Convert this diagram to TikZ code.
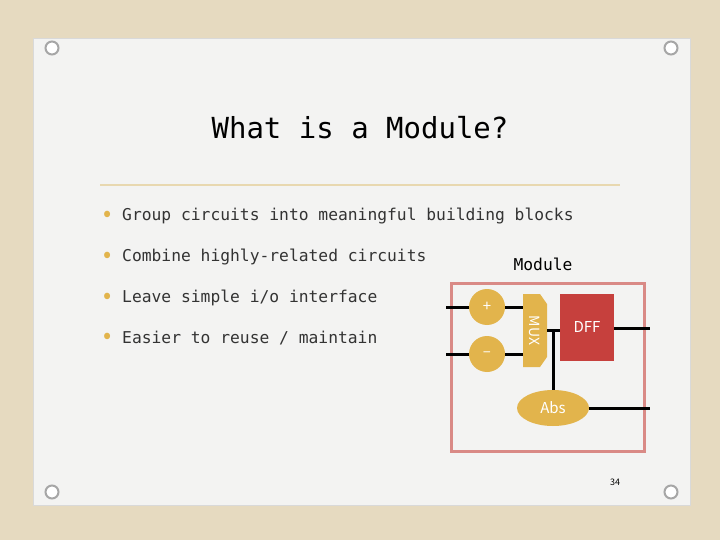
\documentclass[tikz,border=0pt]{standalone}
\usepackage{fontspec}
\setmainfont{Noto Sans CJK JP}
\newfontfamily\gothic{DejaVu Sans Mono}
\usetikzlibrary{shapes.geometric}
\definecolor{bg}{HTML}{E6DAC0}
\definecolor{card}{HTML}{F3F3F2}
\definecolor{gold}{HTML}{E2B44C}
\definecolor{dffred}{HTML}{C6403D}
\definecolor{modred}{HTML}{D98A86}
\definecolor{rule}{HTML}{E8D8B0}
\begin{document}
\begin{tikzpicture}[x=1pt,y=-1pt,
  wire/.style={line width=3pt,black},
  bul/.style={anchor=west,inner sep=0pt,font=\gothic\fontsize{16.3}{20}\selectfont,text=black!80},
  dot/.style={text=gold,font=\fontsize{24}{24}\selectfont},
  ring/.style={circle,draw=gray!70,line width=2pt,fill=white,minimum size=13pt,inner sep=0pt}]
\fill[bg] (0,0) rectangle (720,540);
\useasboundingbox (0,0) rectangle (720,540);
\fill[card,draw=gray!30] (33,38) rectangle (690,505);
\foreach \p/\q [count=\i] in {52/48,671/48,52/492,671/492}{\node[ring] (r\i) at (\p,\q) {};}
\node[font=\gothic\fontsize{29}{34}\selectfont] (title) at (360,128) {What is a Module?};
\draw[rule,line width=2pt] (100,185) -- (620,185);
\node[dot] (b1) at (108,216) {•}; \node[bul] (t1) at (122,216) {Group circuits into meaningful building blocks};
\node[dot] (b2) at (108,257) {•}; \node[bul] (t2) at (122,257) {Combine highly-related circuits};
\node[dot] (b3) at (108,298) {•}; \node[bul] (t3) at (122,298) {Leave simple i/o interface};
\node[dot] (b4) at (108,338) {•}; \node[bul] (t4) at (122,338) {Easier to reuse / maintain};
\node[font=\gothic\fontsize{16.3}{20}\selectfont] (modlbl) at (543,264) {Module};
\node[draw=modred,line width=3pt,minimum width=193pt,minimum height=168pt] (mod) at (547.5,367) {};
\node[circle,fill=gold,minimum size=36pt,inner sep=0pt,text=white,font=\fontsize{15}{15}\selectfont] (plus) at (487,307) {+};
\node[circle,fill=gold,minimum size=36pt,inner sep=0pt,text=white,font=\fontsize{15}{15}\selectfont] (minus) at (487,354) {--};
\fill[gold] (523,294) -- (540,294) -- (547,304) -- (547,357) -- (540,367) -- (523,367) -- cycle;
\node[rotate=-90,text=white,font=\fontsize{14}{14}\selectfont] (mux) at (535,330.5) {MUX};
\node[fill=dffred,minimum width=54pt,minimum height=67pt,text=white,font=\fontsize{15}{15}\selectfont] (dff) at (587,327.5) {DFF};
\node[ellipse,fill=gold,minimum width=72pt,minimum height=36pt,text=white,font=\fontsize{15}{15}\selectfont] (abs) at (553,408) {Abs};
\coordinate (in1) at (446,307); \coordinate (in2) at (446,354);
\coordinate (o1) at (650,328); \coordinate (o2) at (650,408);
\coordinate (mo1) at (523,307); \coordinate (mo2) at (523,354);
\coordinate (mq) at (547,330); \coordinate (j) at (553,330);
\draw[wire] (in1) -- (plus.west) (plus.east) -- (mo1);
\draw[wire] (in2) -- (minus.west) (minus.east) -- (mo2);
\draw[wire] (mq) -- (dff.west |- mq);
\draw[wire] (j) -- (abs.north);
\draw[wire] (dff.east |- o1) -- (o1);
\draw[wire] (abs.east) -- (o2);
\node (pg) at (615,482) {\fontsize{9}{9}\selectfont 34};
\end{tikzpicture}
\end{document}
